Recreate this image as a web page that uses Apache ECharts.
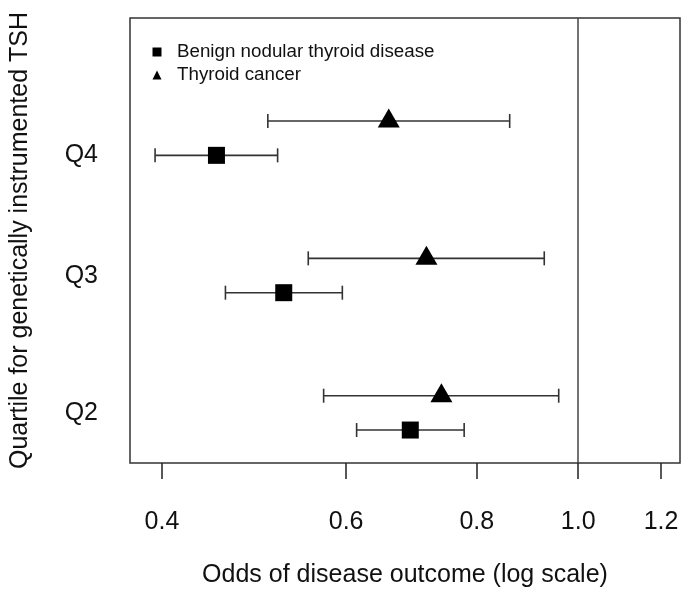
<!DOCTYPE html>
<html>
<head>
<meta charset="utf-8">
<script src="https://cdn.jsdelivr.net/npm/echarts@6/dist/echarts.min.js"></script>
<style>html,body{margin:0;padding:0;background:#fff;}#c{width:682px;height:593px;}</style>
</head>
<body>
<div id="c"></div>
<script>
// Data
const quartiles = ['Q2', 'Q3', 'Q4'];
const benignOR   = [0.691, 0.523, 0.451];
const benignLow  = [0.614, 0.460, 0.394];
const benignHigh = [0.778, 0.595, 0.516];
const cancerOR   = [0.740, 0.716, 0.659];
const cancerLow  = [0.571, 0.552, 0.505];
const cancerHigh = [0.958, 0.928, 0.860];
const xTicks = [0.4, 0.6, 0.8, 1.0, 1.2];
const seriesNames = ['Benign nodular thyroid disease', 'Thyroid cancer'];

const FONT = 'Liberation Sans, Arial, sans-serif';
const ln = Math.log;
const labelPos = [1.12, 2.12, 3.0];

const benignPts = quartiles.map((q, i) => [ln(benignOR[i]), i + 1]);
const cancerPts = quartiles.map((q, i) => [ln(cancerOR[i]), i + 1.25]);
const bars = [];
quartiles.forEach((q, i) => {
  bars.push([ln(benignLow[i]), ln(benignHigh[i]), i + 1]);
  bars.push([ln(cancerLow[i]), ln(cancerHigh[i]), i + 1.25]);
});

const chart = echarts.init(document.getElementById('c'), null, {renderer: 'canvas'});
chart.setOption({
  animation: false,
  backgroundColor: '#fff',
  grid: {left: 129, right: 2, top: 18, bottom: 130, show: true, borderColor: '#333', borderWidth: 1.5, backgroundColor: 'transparent'},
  legend: {
    data: seriesNames,
    orient: 'vertical',
    left: 152.5, top: 40.5, padding: 0,
    itemWidth: 9, itemHeight: 9, itemGap: 0,
    textStyle: {fontSize: 18.75, fontFamily: FONT, color: '#111', lineHeight: 23, padding: [0, 0, 0, 10.5]},
    selectedMode: false
  },
  xAxis: {
    type: 'value',
    min: -0.9866, max: 0.2241,
    name: 'Odds of disease outcome (log scale)',
    nameLocation: 'middle', nameGap: 100,
    nameTextStyle: {fontSize: 25, fontFamily: FONT, color: '#111'},
    axisLine: {show: false},
    splitLine: {show: false},
    axisTick: {show: true, length: 16, customValues: xTicks.map(ln), lineStyle: {color: '#222', width: 1.5}},
    axisLabel: {customValues: xTicks.map(ln), margin: 47, fontSize: 25, fontFamily: FONT, color: '#111',
      formatter: v => Math.exp(v).toFixed(1)}
  },
  yAxis: {
    type: 'value',
    min: 0.76, max: 4.0,
    name: 'Quartile for genetically instrumented TSH',
    nameLocation: 'middle', nameGap: 97, nameRotate: 90,
    nameTextStyle: {fontSize: 25, fontFamily: FONT, color: '#111'},
    axisLine: {show: false},
    axisTick: {show: false},
    splitLine: {show: false},
    axisLabel: {customValues: labelPos, margin: 32, fontSize: 25, fontFamily: FONT, color: '#111',
      formatter: v => {
        let best = 0;
        labelPos.forEach((p, i) => { if (Math.abs(p - v) < Math.abs(labelPos[best] - v)) best = i; });
        return quartiles[best];
      }}
  },
  series: [
    {
      type: 'custom',
      data: bars,
      encode: {x: [0, 1], y: 2},
      z: 2,
      renderItem: (params, api) => {
        const y = api.value(2);
        const lo = api.coord([api.value(0), y]);
        const hi = api.coord([api.value(1), y]);
        const h = 7;
        const st = {stroke: '#333', lineWidth: 1.6};
        return {type: 'group', children: [
          {type: 'line', shape: {x1: lo[0], y1: lo[1], x2: hi[0], y2: hi[1]}, style: st},
          {type: 'line', shape: {x1: lo[0], y1: lo[1] - h, x2: lo[0], y2: lo[1] + h}, style: st},
          {type: 'line', shape: {x1: hi[0], y1: hi[1] - h, x2: hi[0], y2: hi[1] + h}, style: st}
        ]};
      },
      markLine: {
        silent: true, symbol: 'none', label: {show: false},
        lineStyle: {color: '#444', width: 1.5, type: 'solid'},
        data: [{xAxis: 0}]
      }
    },
    {
      name: seriesNames[0], type: 'scatter', data: benignPts, z: 5,
      symbol: 'rect', symbolSize: 17, itemStyle: {color: '#000', opacity: 1}
    },
    {
      name: seriesNames[1], type: 'scatter', data: cancerPts, z: 5,
      symbol: 'triangle', symbolSize: [22, 19], symbolOffset: [0, -3], itemStyle: {color: '#000', opacity: 1}
    }
  ]
});
</script>
</body>
</html>
